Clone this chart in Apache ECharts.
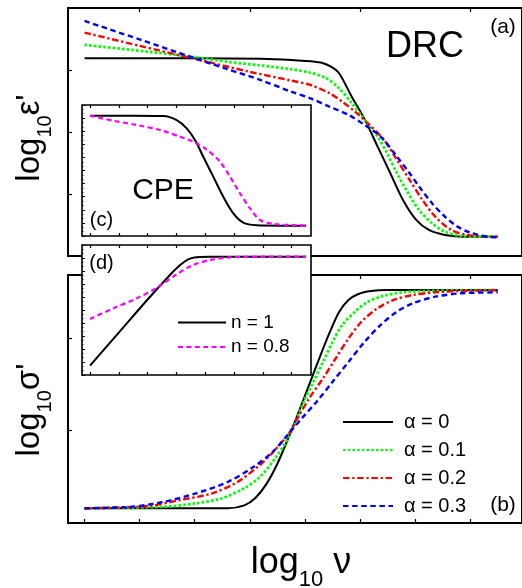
<!DOCTYPE html>
<html>
<head>
<meta charset="utf-8">
<script src="https://cdn.jsdelivr.net/npm/echarts@6/dist/echarts.min.js"></script>
<style>
  html, body { margin: 0; padding: 0; background: #ffffff; }
  #chart { width: 522px; height: 588px; }
</style>
</head>
<body>
<div id="chart"></div>
<script>
// Horizontal coordinate: log10 ν in tick units (curves run from 0 to 7.5).
// Vertical coordinates: log10 ε' / log10 σ' in arbitrary tick units.

const alphaNames = ['α = 0', 'α = 0.1', 'α = 0.2', 'α = 0.3'];
const cpeNames = ['n = 1', 'n = 0.8'];

// (a) DRC permittivity
const epsAlpha0 = [[0, 3.20], [1, 3.20], [2, 3.20], [3.2, 3.19], [3.75, 3.172], [4.1, 3.15], [4.33, 3.12], [4.48, 3.06],
  [4.62, 2.958], [4.85, 2.58], [5.09, 2.205], [5.32, 1.774], [5.55, 1.345], [5.78, 0.914], [6.02, 0.592],
  [6.25, 0.43], [6.54, 0.35], [6.89, 0.322], [7.5, 0.322]];
const epsAlpha01 = [[0, 3.414], [0.862, 3.334], [1.152, 3.306], [2.02, 3.216], [2.61, 3.14], [3.19, 3.085],
  [3.747, 3.022], [4.096, 2.967], [4.387, 2.877], [4.62, 2.716], [4.85, 2.474], [5.085, 2.204], [5.32, 1.935],
  [5.49, 1.667], [5.67, 1.345], [5.84, 1.075], [6.07, 0.753], [6.31, 0.538], [6.54, 0.403], [6.83, 0.334],
  [7.24, 0.322], [7.5, 0.322]];
const epsAlpha02 = [[0, 3.613], [1, 3.40], [2, 3.19], [3, 2.98], [3.747, 2.84], [4.096, 2.769], [4.445, 2.635],
  [4.677, 2.50], [4.91, 2.338], [5.143, 2.151], [5.435, 1.882], [5.67, 1.559], [5.90, 1.237], [6.133, 0.914],
  [6.365, 0.645], [6.656, 0.43], [6.946, 0.35], [7.354, 0.322], [7.5, 0.322]];
const epsAlpha03 = [[0, 3.801], [1, 3.503], [2, 3.20], [2.6, 3.022], [3.19, 2.85], [3.747, 2.661], [4.096, 2.554],
  [4.445, 2.419], [4.794, 2.285], [5.085, 2.124], [5.375, 1.935], [5.67, 1.613], [5.90, 1.345], [6.073, 1.129],
  [6.307, 0.861], [6.54, 0.645], [6.77, 0.484], [7.005, 0.387], [7.41, 0.313], [7.5, 0.313]];

// (b) DRC conductivity
const sigAlpha0 = [[0, 0.159], [2.607, 0.159], [2.9, 0.19], [3.1, 0.27], [3.3, 0.42], [3.5, 0.64], [3.7, 0.92],
  [3.9, 1.22], [4.1, 1.53], [4.3, 1.84], [4.45, 2.06], [4.62, 2.28], [4.79, 2.41], [4.97, 2.476], [5.2, 2.508],
  [5.49, 2.519], [7.5, 2.519]];
const sigAlpha01 = [[0, 0.159], [1.443, 0.176], [2.024, 0.213], [2.49, 0.267], [2.897, 0.375], [3.188, 0.501],
  [3.48, 0.717], [3.712, 0.933], [3.979, 1.311], [4.154, 1.528], [4.328, 1.744], [4.503, 1.96], [4.677, 2.141],
  [4.91, 2.284], [5.143, 2.392], [5.435, 2.457], [5.78, 2.494], [6.365, 2.511], [7.5, 2.519]];
const sigAlpha02 = [[0, 0.159], [1.152, 0.184], [1.735, 0.249], [2.316, 0.321], [2.782, 0.446], [3.188, 0.63],
  [3.42, 0.765], [3.712, 0.97], [3.864, 1.13], [4.08, 1.35], [4.328, 1.564], [4.56, 1.781], [4.794, 1.997],
  [5.026, 2.176], [5.317, 2.321], [5.609, 2.411], [5.958, 2.465], [6.365, 2.494], [6.946, 2.511], [7.5, 2.516]];
const sigAlpha03 = [[0, 0.159], [0.862, 0.176], [1.443, 0.23], [2.024, 0.321], [2.607, 0.446], [3.072, 0.609],
  [3.42, 0.771], [3.712, 0.97], [3.944, 1.132], [4.213, 1.311], [4.503, 1.528], [4.794, 1.744], [5.085, 1.96],
  [5.375, 2.141], [5.667, 2.284], [5.958, 2.375], [6.365, 2.447], [6.83, 2.483], [7.5, 2.494]];

// (c) CPE permittivity
const cpeEpsN1 = [[0, 9.18], [1.5, 9.18], [2.545, 9.16], [3.01, 8.85], [3.358, 8.22], [3.646, 7.33], [3.934, 6.05],
  [4.28, 4.53], [4.628, 3.0], [4.976, 1.73], [5.323, 1.02], [5.788, 0.82], [6.597, 0.79], [7.5, 0.79]];
const cpeEpsN08 = [[0, 9.18], [0.809, 8.8], [1.622, 8.47], [2.43, 8.09], [3.125, 7.58], [3.587, 7.2], [4.052, 6.6],
  [4.514, 5.67], [4.861, 4.53], [5.208, 3.26], [5.556, 2.11], [5.903, 1.22], [6.365, 0.92], [7.177, 0.82], [7.5, 0.79]];

// (d) CPE conductivity
const cpeSigN1 = [[0, 0.715], [1, 3.26], [2, 5.81], [2.8, 7.75], [3.1, 8.4], [3.3, 8.75], [3.5, 8.97], [3.8, 9.07],
  [4.2, 9.1], [7.5, 9.1]];
const cpeSigN08 = [[0, 4.31], [0.809, 5.13], [1.622, 5.9], [2.316, 6.7], [3.01, 7.75], [3.587, 8.46], [4.167, 8.85],
  [4.861, 9.05], [6.017, 9.1], [7.5, 9.1]];

// Tick positions
const mainTicksAll = [0, 1, 2, 3, 4, 5, 6, 7];
const mainTicksOdd = [1, 3, 5, 7];
const epsTicks = [1, 2, 3];
const sigTicks = [1, 2];
const insetTicks = [0, 1, 2, 3, 4, 5, 6, 7];

const FONT = '"Liberation Sans", Arial, sans-serif';

const lineLook = {
  'α = 0':   { color: '#000000', width: 2,   type: 'solid' },
  'α = 0.1': { color: '#00ff00', width: 2.7, type: [2.6, 2.1] },
  'α = 0.2': { color: '#ff0000', width: 2.4, type: [6.5, 2.7, 2.3, 2.7] },
  'α = 0.3': { color: '#0000ff', width: 2.4, type: [5.5, 3.6] },
  'n = 1':   { color: '#000000', width: 2,   type: 'solid' },
  'n = 0.8': { color: '#ff00ff', width: 2.2, type: [5, 3.4] }
};

function line(name, data, xi, yi, z) {
  const s = lineLook[name];
  return {
    type: 'line', name, data, xAxisIndex: xi, yAxisIndex: yi,
    symbol: 'none', smooth: 0.3, z: z, silent: true,
    lineStyle: { color: s.color, width: s.width, type: s.type },
    itemStyle: { color: s.color },
    emphasis: { disabled: true }
  };
}

function axis(gridIndex, position, min, max, ticks, len, z) {
  return {
    type: 'value', gridIndex, position, min, max, z: z || 0,
    axisLine: { show: false, onZero: false },
    axisLabel: { show: false },
    splitLine: { show: false },
    axisTick: ticks
      ? { show: true, inside: true, length: len, customValues: ticks, lineStyle: { color: '#000', width: 1.2 } }
      : { show: false }
  };
}

function insetY(gridIndex) {
  return {
    type: 'value', gridIndex, position: 'left', min: 0, max: 10, interval: 1, z: 6,
    axisLine: { show: false, onZero: false }, axisLabel: { show: false }, splitLine: { show: false },
    axisTick: { show: true, inside: true, length: 3, lineStyle: { color: '#000', width: 1 } },
    minorTick: { show: true, splitNumber: 3, length: 1.5, lineStyle: { color: '#000', width: 0.8 } }
  };
}

function axisName(text, x, y, rotated) {
  return {
    type: 'text', x, y, rotation: rotated ? Math.PI / 2 : 0, z: 30,
    style: {
      text, align: 'center', verticalAlign: 'middle', fill: '#000',
      rich: {
        m: { fontSize: rotated ? 33 : 36, fontFamily: FONT, lineHeight: rotated ? 50 : 56, fill: '#000' },
        s: { fontSize: rotated ? 20 : 22, fontFamily: FONT, lineHeight: rotated ? 20 : 22, verticalAlign: 'bottom', fill: '#000' }
      }
    }
  };
}

function label(text, x, y, size) {
  return { type: 'text', x, y, z: 30, style: { text, fontSize: size, fontFamily: FONT, fill: '#000', align: 'center', verticalAlign: 'middle' } };
}

const chart = echarts.init(document.getElementById('chart'), null, { renderer: 'canvas' });

const legendBase = {
  orient: 'vertical', padding: 0, itemHeight: 20, selectedMode: false, z: 20,
  itemStyle: { opacity: 0 }
};

const option = {
  animation: false,
  backgroundColor: '#ffffff',
  textStyle: { fontFamily: FONT },
  grid: [
    { left: 68, top: 8, width: 472, height: 248, show: true, borderColor: '#000', borderWidth: 2, backgroundColor: 'rgba(0,0,0,0)', z: 0 },
    { left: 68, top: 275, width: 472, height: 248, show: true, borderColor: '#000', borderWidth: 2, backgroundColor: 'rgba(0,0,0,0)', z: 0 },
    { left: 82, top: 105, width: 229, height: 131, show: true, borderColor: '#000', borderWidth: 1.6, backgroundColor: '#ffffff', z: 5 },
    { left: 82, top: 245, width: 229, height: 130, show: true, borderColor: '#000', borderWidth: 1.6, backgroundColor: '#ffffff', z: 5 }
  ],
  xAxis: [
    axis(0, 'bottom', -0.3, 7.94, null, 0),
    axis(0, 'top', -0.3, 7.94, mainTicksOdd, 4),
    axis(1, 'bottom', -0.3, 7.94, mainTicksAll, 4),
    axis(1, 'top', -0.3, 7.94, mainTicksOdd, 4),
    axis(2, 'bottom', -0.278, 7.674, insetTicks, 3, 6),
    axis(2, 'top', -0.278, 7.674, insetTicks, 3, 6),
    axis(3, 'bottom', -0.278, 7.674, insetTicks, 3, 6),
    axis(3, 'top', -0.278, 7.674, insetTicks, 3, 6)
  ],
  yAxis: [
    axis(0, 'left', 0.01, 4.01, epsTicks, 4),
    axis(1, 'left', 0, 2.681, sigTicks, 4),
    insetY(2),
    insetY(3)
  ],
  legend: [
    Object.assign({}, legendBase, {
      data: alphaNames, left: 342, top: 412, itemWidth: 50, itemGap: 8,
      textStyle: { fontSize: 20, fontFamily: FONT, color: '#000', padding: [0, 0, 0, 6] }
    }),
    Object.assign({}, legendBase, {
      data: cpeNames, left: 177, top: 313, itemWidth: 48, itemGap: 5.6,
      textStyle: { fontSize: 19, fontFamily: FONT, color: '#000' }
    })
  ],
  series: [
    line('α = 0', epsAlpha0, 0, 0, 2),
    line('α = 0.1', epsAlpha01, 0, 0, 2),
    line('α = 0.2', epsAlpha02, 0, 0, 2),
    line('α = 0.3', epsAlpha03, 0, 0, 2),
    line('α = 0', sigAlpha0, 2, 1, 2),
    line('α = 0.1', sigAlpha01, 2, 1, 2),
    line('α = 0.2', sigAlpha02, 2, 1, 2),
    line('α = 0.3', sigAlpha03, 2, 1, 2),
    line('n = 1', cpeEpsN1, 4, 2, 8),
    line('n = 0.8', cpeEpsN08, 4, 2, 8),
    line('n = 1', cpeSigN1, 6, 3, 8),
    line('n = 0.8', cpeSigN08, 6, 3, 8)
  ],
  graphic: [
    label('DRC', 425, 47, 36),
    label('(a)', 503, 27, 21),
    label('(b)', 503, 505, 21),
    label('CPE', 163, 191, 30),
    label('(c)', 101.5, 220, 20),
    label('(d)', 101.5, 263, 20),
    axisName("{m|log}{s|10}{m|ε'}", 30, 138, true),
    axisName("{m|log}{s|10}{m|σ'}", 30, 410, true),
    axisName('{m|log}{s|10}{m| ν}', 301, 563, false)
  ]
};

chart.setOption(option);
</script>
</body>
</html>
